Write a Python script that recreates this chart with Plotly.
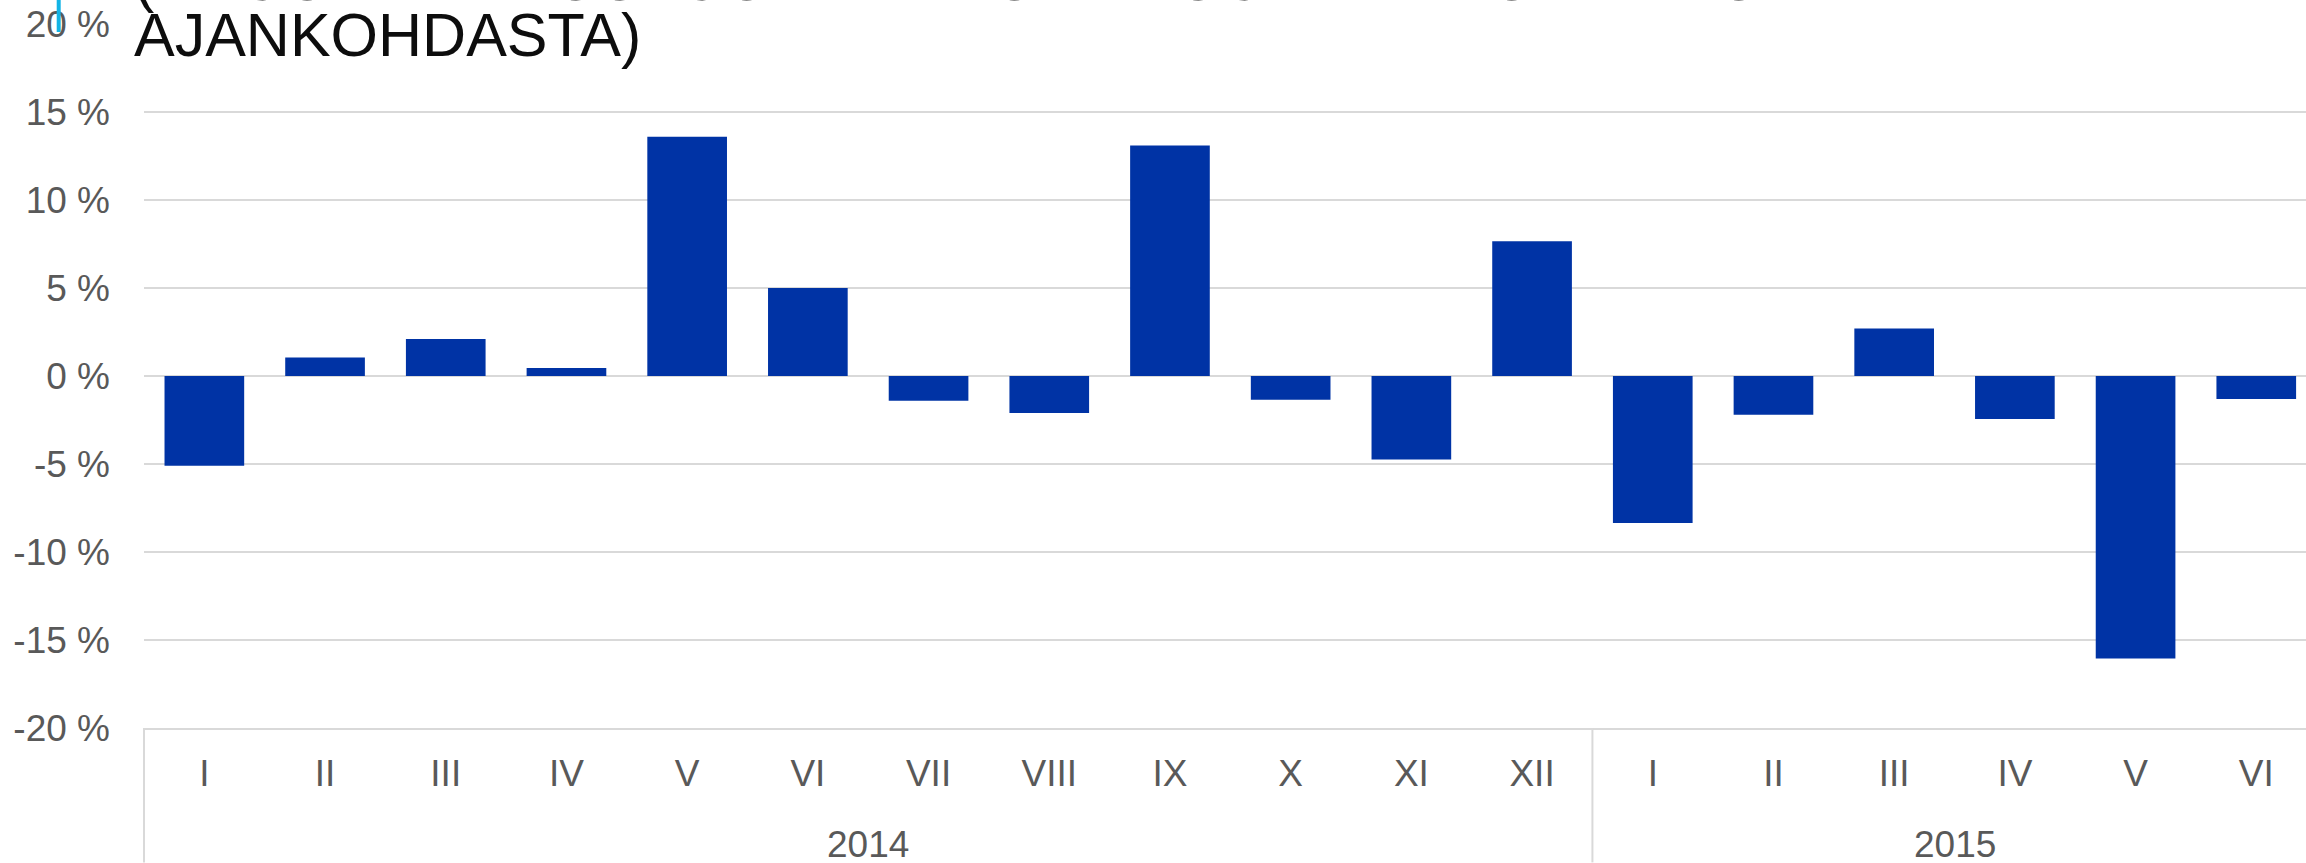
import plotly.graph_objects as go

# ---- data ----
months = ["I", "II", "III", "IV", "V", "VI", "VII", "VIII", "IX", "X", "XI", "XII",
          "I", "II", "III", "IV", "V", "VI"]
years = ["2014"] * 12 + ["2015"] * 6
values = [-5.1, 1.05, 2.1, 0.45, 13.6, 5.0, -1.4, -2.1, 13.1, -1.35, -4.75, 7.65,
          -8.35, -2.2, 2.7, -2.45, -16.05, -1.3]
y_tick_vals = [-20, -15, -10, -5, 0, 5, 10, 15, 20]
y_tick_text = [f"{v} %" for v in y_tick_vals]
title_line1 = "(PROSENTTIMUUTOS EDELLISEN VUODEN VASTAAVASTA"
title_line2 = "AJANKOHDASTA)"

# ---- style ----
BAR_COLOR = "#0033A5"
GRID = "#d9d9d9"
TXT = "#595959"
FONT = "Liberation Sans, Arial, sans-serif"
W, H = 2306, 863
ML, MT, MB = 144, 24, 134.5
plot_h = H - MT - MB
x_range = [-0.5, len(values) - 0.5 - 0.088]

x_idx = list(range(len(values)))

fig = go.Figure(go.Bar(
    x=x_idx, y=values,
    marker=dict(color=BAR_COLOR, line=dict(width=0)),
    hoverinfo="skip",
))

# year group labels and dividers derived from data
shapes = []
annotations = []
span = x_range[1] - x_range[0]
groups = []
for i, y in enumerate(years):
    if not groups or groups[-1][0] != y:
        groups.append([y, i, i])
    else:
        groups[-1][2] = i
for name, a, b in groups:
    annotations.append(dict(
        x=(a + b) / 2, xref="x", y=0, yref="paper", yanchor="middle",
        yshift=-116.5, text=name, showarrow=False,
        font=dict(family=FONT, size=37, color=TXT)))
    xp = (a - 0.5 - x_range[0]) / span
    shapes.append(dict(type="line", xref="paper", yref="paper",
                       x0=xp, x1=xp, y0=0, y1=-MB / plot_h,
                       line=dict(color=GRID, width=2)))

# cyan decoration line at top-left
xc = (58.7 - ML) / (W - ML)
shapes.append(dict(type="line", xref="paper", yref="paper",
                   x0=xc, x1=xc, y0=1 + MT / plot_h, y1=1 - 8 / plot_h,
                   line=dict(color="#12B4E6", width=4), layer="above"))

# title lines
TITLE_SIZE = 61
annotations.append(dict(x=0, xref="paper", y=1, yref="paper", xanchor="left",
                        yanchor="bottom", xshift=-12, yshift=8.5, text=title_line1,
                        showarrow=False, font=dict(family=FONT, size=TITLE_SIZE, color="#0d0d0d")))
annotations.append(dict(x=0, xref="paper", y=1, yref="paper", xanchor="left",
                        yanchor="bottom", xshift=-12, yshift=-47, text=title_line2,
                        showarrow=False, font=dict(family=FONT, size=TITLE_SIZE, color="#0d0d0d")))

fig.update_layout(
    width=W, height=H,
    margin=dict(l=ML, r=0, t=MT, b=MB, pad=0),
    paper_bgcolor="white", plot_bgcolor="white",
    showlegend=False, bargap=0.34,
    font=dict(family=FONT, color=TXT),
    shapes=shapes, annotations=annotations,
    xaxis=dict(range=x_range, tickmode="array", tickvals=x_idx, ticktext=months,
               showgrid=False, zeroline=False, showline=True, linecolor=GRID,
               linewidth=2, ticks="", tickfont=dict(family=FONT, size=37, color=TXT),
               ticklabelstandoff=12, automargin=False, fixedrange=True),
    yaxis=dict(range=[-20, 20], tickmode="array", tickvals=y_tick_vals,
               ticktext=y_tick_text, showgrid=True, gridcolor=GRID, gridwidth=2,
               zeroline=False, showline=False, ticks="",
               tickfont=dict(family=FONT, size=37, color=TXT),
               ticklabelstandoff=33, automargin=False, fixedrange=True),
)

fig.write_html(
    "out.html",
    config={"displayModeBar": False},
    post_script="document.body.style.margin='0';document.body.style.overflow='hidden';",
)
